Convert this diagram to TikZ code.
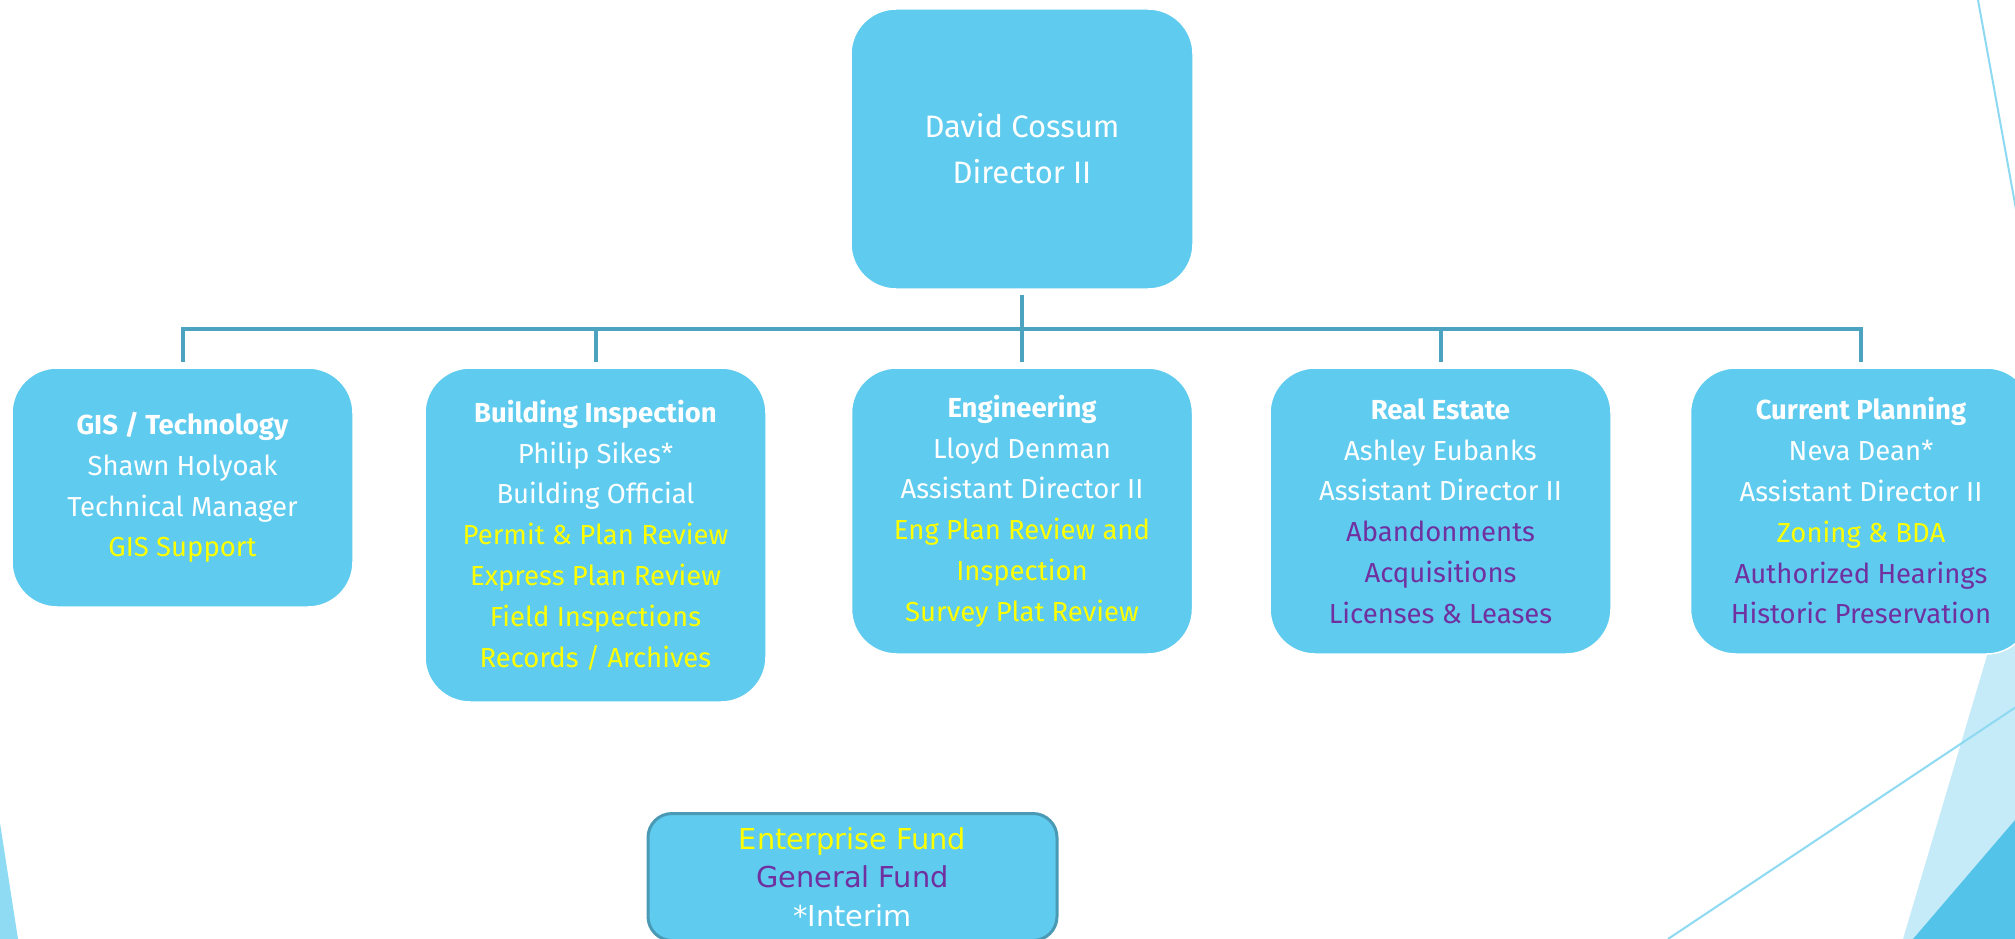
\documentclass[tikz,border=0pt]{standalone}
\usepackage{fontspec}
\setmainfont{Fira Sans}
\newfontfamily\legendfont{DejaVu Sans}
\definecolor{boxfill}{HTML}{5FCBEE}
\definecolor{conn}{HTML}{4BA3BF}
\definecolor{legborder}{HTML}{4A9AB5}
\definecolor{yel}{HTML}{FFFF00}
\definecolor{pur}{HTML}{7030A0}
\definecolor{lightpoly}{HTML}{C5EBF8}
\definecolor{darkpoly}{HTML}{54C3EA}
\definecolor{thinline}{HTML}{8DD9F2}
\definecolor{sliver}{HTML}{8FDBF3}
\begin{document}
\begin{tikzpicture}[x=1pt,y=-1pt,
  orgbox/.style={fill=boxfill, draw=white, line width=1.5pt, rounded corners=45pt,
    minimum width=341pt, align=center, text=white, inner sep=0pt,
    font=\fontsize{27.5}{40.8}\selectfont},
  topbox/.style={orgbox, minimum width=342pt, minimum height=280pt,
    font=\fontsize{31}{46}\selectfont},
  legendbox/.style={fill=boxfill, draw=legborder, line width=3pt, rounded corners=24pt,
    minimum width=409pt, minimum height=127pt, align=center, text=white, inner sep=0pt,
    font=\legendfont\fontsize{28.8}{38.5}\selectfont},
  link/.style={draw=conn, line width=4pt},
  deco/.style={draw=thinline, line width=2pt},
]
\useasboundingbox (0,0) rectangle (2015,939);
\begin{scope}
\clip (0,0) rectangle (2015,939);
% background decorations
\fill[lightpoly] (1903,939) -- (2015,561) -- (2015,939) -- cycle;
\fill[darkpoly] (1913,939) -- (2015,820) -- (2015,939) -- cycle;
\fill[sliver] (0,823) -- (18,939) -- (0,939) -- cycle;
\coordinate (d1a) at (1978,0);
\coordinate (d1b) at (2019,226);
\coordinate (d2a) at (1668,939);
\coordinate (d2b) at (2019,705);
\draw[deco] (d1a) -- (d1b);
\draw[deco] (d2a) -- (d2b);

% nodes
\node[topbox] (top) at (1022,149) {David Cossum\\Director II};

\node[orgbox, minimum height=239pt] (gis) at (182.5,487.5)
  {\textbf{GIS / Technology}\\Shawn Holyoak\\Technical Manager\\\textcolor{yel}{GIS Support}};
\node[orgbox, minimum height=334pt] (bi) at (595.5,535)
  {\textbf{Building Inspection}\\Philip Sikes*\\Building Official\\
   \textcolor{yel}{Permit \& Plan Review}\\\textcolor{yel}{Express Plan Review}\\
   \textcolor{yel}{Field Inspections}\\\textcolor{yel}{Records / Archives}};
\node[orgbox, minimum height=286pt] (eng) at (1022,511)
  {\textbf{Engineering}\\Lloyd Denman\\Assistant Director II\\
   \textcolor{yel}{Eng Plan Review and}\\\textcolor{yel}{Inspection}\\\textcolor{yel}{Survey Plat Review}};
\node[orgbox, minimum height=286pt] (re) at (1440.5,511)
  {\textbf{Real Estate}\\Ashley Eubanks\\Assistant Director II\\
   \textcolor{pur}{Abandonments}\\\textcolor{pur}{Acquisitions}\\\textcolor{pur}{Licenses \& Leases}};
\node[orgbox, minimum height=286pt] (cp) at (1861,511)
  {\textbf{Current Planning}\\Neva Dean*\\Assistant Director II\\
   \textcolor{yel}{Zoning \& BDA}\\\textcolor{pur}{Authorized Hearings}\\\textcolor{pur}{Historic Preservation}};

\node[legendbox] (leg) at (852.5,877)
  {\textcolor{yel}{Enterprise Fund}\\\textcolor{pur}{General Fund}\\*Interim};

% connectors
\coordinate (bus) at (1022,329);
\draw[link] ([yshift=-5pt]top.south) -- ([yshift=5pt]eng.north);
\draw[link] ([yshift=5pt]gis.north) -- (gis.north |- bus) -- (cp.north |- bus) -- ([yshift=5pt]cp.north);
\draw[link] (bi.north |- bus) -- ([yshift=5pt]bi.north);
\draw[link] (re.north |- bus) -- ([yshift=5pt]re.north);
\end{scope}
\end{tikzpicture}
\end{document}
